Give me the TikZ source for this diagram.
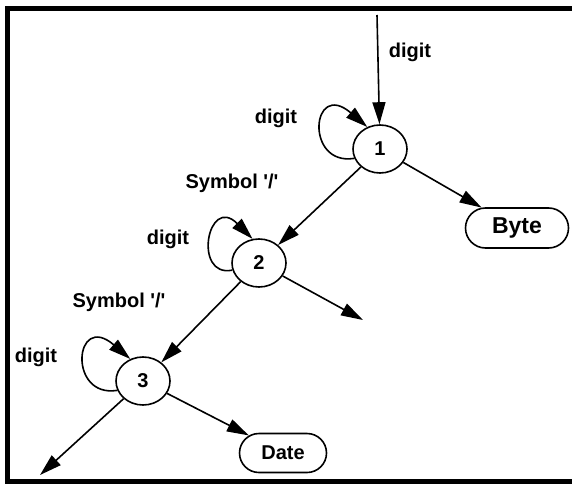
\documentclass[tikz,border=0pt]{standalone}
\usepackage{fontspec}
\setmainfont{Liberation Sans}
\usetikzlibrary{arrows.meta,shapes.geometric,shapes.misc}
\begin{document}
\begin{tikzpicture}[x=1pt,y=1pt,
  state/.style={ellipse,draw,line width=1.6pt,minimum width=54pt,minimum height=48pt,inner sep=0pt,font=\fontsize{20}{24}\selectfont\bfseries},
  term/.style={rounded rectangle,draw,line width=1.6pt,inner sep=0pt},
  lbl/.style={font=\fontsize{20}{24}\selectfont\bfseries,inner sep=0pt},
  arr/.style={line width=1.6pt,-{Triangle[length=22pt,width=13pt]}},
  frame/.style={line width=5pt}
]
\useasboundingbox (0,0) rectangle (572,483);
\clip (0,0) rectangle (572,483);
% frame
\draw[frame] (580,1.5) -- (7.5,1.5) -- (7.5,474) -- (580,474);

% states
\node[state] (n1) at (380,334) {1};
\node[state] (n2) at (259,220) {2};
\node[state] (n3) at (143,102) {3};
\node[term,minimum width=103pt,minimum height=40pt,font=\fontsize{23}{27}\selectfont\bfseries] (byte) at (517,255) {Byte};
\node[term,minimum width=87pt,minimum height=39pt,font=\fontsize{20}{24}\selectfont\bfseries] (date) at (283,30) {Date};

\coordinate (start) at (377,468);
\coordinate (e2) at (363,163);
\coordinate (e3) at (40,8);

% labels
\node[lbl] at (410,431) {digit};
\node[lbl] at (276,365) {digit};
\node[lbl] at (232,300) {Symbol \textquotesingle/\textquotesingle};
\node[lbl] at (168,244) {digit};
\node[lbl] at (119,181) {Symbol \textquotesingle/\textquotesingle};
\node[lbl] at (36,126) {digit};

% edges
\draw[arr] (start) -- (n1);
\draw[arr] (n1) -- (byte);
\draw[arr] (n1) -- (n2);
\draw[arr] (n2) -- (e2);
\draw[arr] (n2) -- (n3);
\draw[arr] (n3) -- (date);
\draw[arr] (n3) -- (e3);

% loops
\draw[arr] (n1.200) .. controls +(-50,-8) and +(-56,48) .. (n1.120);
\draw[arr] (n2.195) .. controls +(-40,-8) and +(-45,45) .. (n2.105);
\draw[arr] (n3.200) .. controls +(-50,-8) and +(-56,48) .. (n3.120);
\end{tikzpicture}
\end{document}
